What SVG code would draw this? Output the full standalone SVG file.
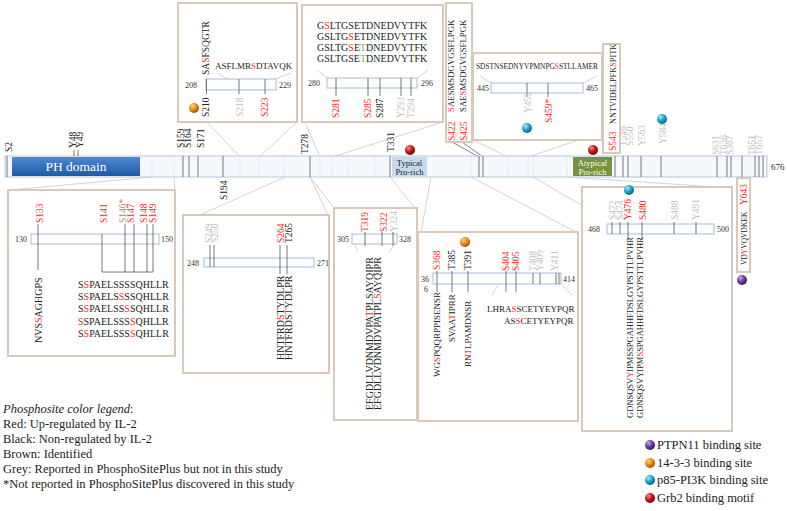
<svg xmlns="http://www.w3.org/2000/svg" width="787" height="511" viewBox="0 0 787 511">
<defs>
<radialGradient id="gOr" cx="0.35" cy="0.3" r="0.75"><stop offset="0" stop-color="#ffd27a"/><stop offset="0.5" stop-color="#f08c12"/><stop offset="1" stop-color="#9a4a00"/></radialGradient>
<radialGradient id="gCy" cx="0.35" cy="0.3" r="0.75"><stop offset="0" stop-color="#a8ecff"/><stop offset="0.5" stop-color="#1ca6cc"/><stop offset="1" stop-color="#0a5a78"/></radialGradient>
<radialGradient id="gRd" cx="0.35" cy="0.3" r="0.75"><stop offset="0" stop-color="#ff8a8a"/><stop offset="0.5" stop-color="#c8161c"/><stop offset="1" stop-color="#6a0000"/></radialGradient>
<radialGradient id="gPu" cx="0.35" cy="0.3" r="0.75"><stop offset="0" stop-color="#c7a6f0"/><stop offset="0.5" stop-color="#6a3fa8"/><stop offset="1" stop-color="#2e1458"/></radialGradient>
<linearGradient id="gPH" x1="0" y1="0" x2="0" y2="1"><stop offset="0" stop-color="#4d8ad6"/><stop offset="1" stop-color="#1f59a6"/></linearGradient>
</defs>
<style>
text{font-family:"Liberation Serif","Times New Roman",serif;fill:#222}
.l{font-size:9.5px}
.n{font-size:8px;fill:#333}
.s9{font-size:9px}
.s10{font-size:10px}
.r{fill:#ff1f1f}
.g{fill:#c2c2c2}
.b{fill:#9b9470}
.gr{fill:#7dbb5a}
.w{fill:#fff}
.box{fill:#fff;stroke:#d8c9ba;stroke-width:2}
.mb{fill:#fcfdfe;stroke:#a9bcd6;stroke-width:1}
.tk{stroke:#555;stroke-width:0.8}
.dl{stroke:#cfd7e2;stroke-width:0.8;stroke-dasharray:1.5 1.5}
.cn{stroke:#c9c9c9;stroke-width:0.8;fill:none}
.cd{stroke:#666;stroke-width:0.8;fill:none}
.lg{font-size:12.5px}
</style>
<rect width="787" height="511" fill="#fff"/>

<g id="connectors">
<line class="cn" x1="152" y1="177" x2="10" y2="190"/>
<line class="cn" x1="174" y1="177" x2="175" y2="190"/>
<line class="cn" x1="240" y1="157" x2="207" y2="122"/>
<line class="cn" x1="259" y1="157" x2="297" y2="122"/>
<line class="cn" x1="320" y1="157" x2="305" y2="122"/>
<line class="cn" x1="332" y1="157" x2="443" y2="122"/>
<line class="cd" x1="452" y1="142" x2="479" y2="157"/>
<line class="cd" x1="462" y1="142" x2="483" y2="157"/>
<line class="cn" x1="508" y1="157" x2="473" y2="140"/>
<line class="cn" x1="528" y1="157" x2="602" y2="132"/>
<line class="cn" x1="285" y1="177" x2="200" y2="215"/>
<line class="cn" x1="310" y1="177" x2="328" y2="215"/>
<line class="cn" x1="310" y1="177" x2="334" y2="208"/>
<line class="cn" x1="390" y1="177" x2="415" y2="208"/>
<line class="cn" x1="431" y1="177" x2="421" y2="232"/>
<line class="cn" x1="471" y1="177" x2="576" y2="232"/>
<line class="cn" x1="533" y1="177" x2="590" y2="210"/>
<line class="cn" x1="567" y1="177" x2="731" y2="188"/>
</g>

<g id="main-bar">
<rect x="5" y="156" width="762" height="21" fill="#f5f8fc" stroke="#b7c7dc"/>
<g class="dl">
<line x1="152" y1="156" x2="152" y2="177"/><line x1="174" y1="156" x2="174" y2="177"/>
<line x1="240" y1="156" x2="240" y2="177"/><line x1="259" y1="156" x2="259" y2="177"/>
<line x1="284" y1="156" x2="284" y2="177"/><line x1="320" y1="156" x2="320" y2="177"/>
<line x1="332" y1="156" x2="332" y2="177"/><line x1="348" y1="156" x2="348" y2="177"/>
<line x1="375" y1="156" x2="375" y2="177"/><line x1="471" y1="156" x2="471" y2="177"/>
<line x1="508" y1="156" x2="508" y2="177"/><line x1="528" y1="156" x2="528" y2="177"/>
<line x1="533" y1="156" x2="533" y2="177"/><line x1="567" y1="156" x2="567" y2="177"/>
</g>
<g class="tk">
<line x1="7" y1="156" x2="7" y2="177"/><line x1="183" y1="156" x2="183" y2="177"/>
<line x1="189" y1="156" x2="189" y2="177"/><line x1="198" y1="156" x2="198" y2="177"/>
<line x1="223" y1="156" x2="223" y2="177"/><line x1="310" y1="156" x2="310" y2="177"/>
<line x1="390" y1="156" x2="390" y2="177"/><line x1="479" y1="156" x2="479" y2="177"/>
<line x1="483" y1="156" x2="483" y2="177"/><line x1="615" y1="156" x2="615" y2="177"/>
<line x1="623" y1="156" x2="623" y2="177"/><line x1="628" y1="156" x2="628" y2="177"/>
<line x1="641" y1="156" x2="641" y2="177"/><line x1="661" y1="156" x2="661" y2="177"/>
<line x1="717" y1="156" x2="717" y2="177"/><line x1="727" y1="156" x2="727" y2="177"/>
<line x1="731" y1="156" x2="731" y2="177"/><line x1="742" y1="156" x2="742" y2="177"/>
<line x1="755" y1="156" x2="755" y2="177"/><line x1="759" y1="156" x2="759" y2="177"/>
<line x1="763" y1="156" x2="763" y2="177"/>
<line x1="74" y1="150" x2="74" y2="156"/><line x1="78" y1="150" x2="78" y2="156"/>
</g>
<rect x="12" y="157" width="128" height="19" fill="url(#gPH)"/>
<text x="76" y="171" class="w" font-size="13.5" text-anchor="middle">PH domain</text>
<rect x="392" y="157" width="35" height="19" fill="#c5d9f1"/>
<text x="409.5" y="166" font-size="8.5" text-anchor="middle">Typical</text>
<text x="409.5" y="175" font-size="8.5" text-anchor="middle">Pro-rich</text>
<rect x="573" y="157" width="39" height="19" fill="#76923c"/>
<text x="592.5" y="166" class="w" font-size="8.5" text-anchor="middle">Atypical</text>
<text x="592.5" y="175" class="w" font-size="8.5" text-anchor="middle">Pro-rich</text>
<circle cx="410" cy="150" r="5" fill="url(#gRd)"/>
<circle cx="593" cy="150" r="5" fill="url(#gRd)"/>
<circle cx="662" cy="119" r="5" fill="url(#gCy)"/>
<g class="l">
<text transform="translate(12,152) rotate(-90)">S2</text>
<text transform="translate(76,148) rotate(-90)">Y48</text>
<text transform="translate(83,148) rotate(-90)">Y49</text>
<text transform="translate(184,148) rotate(-90)">S159</text>
<text transform="translate(191,148) rotate(-90)">S164</text>
<text transform="translate(204,148) rotate(-90)">S171</text>
<text transform="translate(308,154) rotate(-90)">T278</text>
<text transform="translate(394,152) rotate(-90)">T331</text>
<text transform="translate(227,200) rotate(-90)">S194</text>
<text class="g" transform="translate(626,146) rotate(-90)">T546</text>
<text class="g" transform="translate(633,146) rotate(-90)">S550</text>
<text class="g" transform="translate(645,146) rotate(-90)">Y563</text>
<text class="g" transform="translate(666,144) rotate(-90)">Y584</text>
<text class="g" transform="translate(719,155) rotate(-90)">S631</text>
<text class="g" transform="translate(727,155) rotate(-90)">T636</text>
<text class="g" transform="translate(733,155) rotate(-90)">S367</text>
<text class="g" transform="translate(755,155) rotate(-90)">T651</text>
<text class="g" transform="translate(762,155) rotate(-90)">T657</text>
</g>
<text x="771" y="170" class="s9">676</text>
</g>

<g id="box-208-229">
<rect class="box" x="178" y="3" width="119" height="119"/>
<text class="l" transform="translate(209,75) rotate(-90)">SA<tspan class="r">S</tspan>FSQGTR</text>
<text class="s9" x="215" y="69">ASFLMR<tspan class="r">S</tspan>DTAVQK</text>
<line class="cn" x1="217" y1="73" x2="228" y2="79"/>
<line class="cn" x1="291" y1="73" x2="275" y2="79"/>
<rect class="mb" x="206" y="79" width="70" height="11"/>
<text class="n" x="185" y="88">208</text>
<text class="n" x="279" y="88">229</text>
<g class="tk"><line x1="206.5" y1="79" x2="206.5" y2="94"/><line x1="239" y1="79" x2="239" y2="94"/><line x1="265" y1="79" x2="265" y2="94"/></g>
<g class="l">
<text transform="translate(209,117) rotate(-90)">S210</text>
<text class="g" transform="translate(243,117) rotate(-90)">S218</text>
<text class="r" transform="translate(268,117) rotate(-90)">S223</text>
</g>
<circle cx="194" cy="108" r="5" fill="url(#gOr)"/>
</g>

<g id="box-280-296">
<rect class="box" x="302" y="5" width="141" height="117"/>
<g class="s10">
<text x="317" y="28.5">G<tspan class="r">S</tspan>LTGSETDNEDVYTFK</text>
<text x="317" y="39.8">GSLTG<tspan class="r">S</tspan>ETDNEDVYTFK</text>
<text x="317" y="51.1">GSLTG<tspan class="r">S</tspan>E<tspan class="gr">T</tspan>DNEDVYTFK</text>
<text x="317" y="62.4">GSLTGSE<tspan class="gr">T</tspan>DNEDVYTFK</text>
</g>
<line class="cn" x1="317" y1="70" x2="327" y2="78"/>
<line class="cn" x1="428" y1="70" x2="417" y2="78"/>
<rect class="mb" x="327" y="78" width="90" height="10"/>
<text class="n" x="308" y="86">280</text>
<text class="n" x="421" y="86">296</text>
<g class="tk"><line x1="336" y1="78" x2="336" y2="96"/><line x1="368" y1="78" x2="368" y2="96"/><line x1="380" y1="78" x2="380" y2="96"/><line x1="401" y1="78" x2="401" y2="96"/><line x1="411" y1="78" x2="411" y2="96"/></g>
<g class="l">
<text class="r" transform="translate(339,118) rotate(-90)">S281</text>
<text class="r" transform="translate(371,118) rotate(-90)">S285</text>
<text transform="translate(383,118) rotate(-90)">S287</text>
<text class="g" transform="translate(404,118) rotate(-90)">Y293</text>
<text class="g" transform="translate(414,118) rotate(-90)">T294</text>
</g>
</g>

<g id="box-422-425">
<rect class="box" x="446" y="3" width="26" height="139"/>
<text font-size="8.8" transform="translate(454,112) rotate(-90)"><tspan class="r">S</tspan>AESMSDGVGSFLPGK</text>
<text font-size="8.8" transform="translate(466,112) rotate(-90)">SAE<tspan class="r">S</tspan>MSDGVGSFLPGK</text>
<text class="l r" transform="translate(455,141) rotate(-90)">S422</text>
<text class="l r" transform="translate(467,141) rotate(-90)">S425</text>
</g>

<g id="box-445-465">
<rect class="box" x="473" y="53" width="129" height="87"/>
<text font-size="7.4" x="476" y="69">SDSTNSEDNYVPMNPG<tspan class="r">S</tspan>STLLAMER</text>
<line class="cn" x1="480" y1="76" x2="491" y2="83"/>
<line class="cn" x1="597" y1="76" x2="583" y2="83"/>
<rect class="mb" x="491" y="83" width="92" height="10"/>
<text class="n" x="477" y="91">445</text>
<text class="n" x="586" y="91">465</text>
<g class="tk"><line x1="527" y1="83" x2="527" y2="97"/><line x1="548" y1="83" x2="548" y2="97"/></g>
<text class="l g" transform="translate(531,113) rotate(-90)">Y452</text>
<text class="l r" transform="translate(552,123) rotate(-90)">S459*</text>
<circle cx="527" cy="128" r="5" fill="url(#gCy)"/>
</g>

<g id="box-543">
<rect class="box" x="603" y="44" width="17" height="109"/>
<text font-size="8.3" transform="translate(616,124) rotate(-90)">NNTVIDELPFK<tspan class="r">S</tspan>PITK</text>
<text class="l r" transform="translate(616,151) rotate(-90)">S543</text>
</g>

<g id="box-643">
<rect class="box" x="737" y="178" width="13" height="94"/>
<text class="l r" transform="translate(747,205) rotate(-90)">Y643</text>
<text font-size="7.5" transform="translate(747,265) rotate(-90)">VD<tspan class="r">Y</tspan>VQVDKEK</text>
<circle cx="742" cy="280" r="5" fill="url(#gPu)"/>
</g>

<g id="box-130-150">
<rect class="box" x="8" y="190" width="167" height="166"/>
<rect class="mb" x="31" y="234" width="128" height="10"/>
<text class="n" x="15" y="242">130</text>
<text class="n" x="161" y="242">150</text>
<g class="tk">
<line x1="38" y1="224" x2="38" y2="270"/>
<line x1="102" y1="234" x2="102" y2="272"/><line x1="125" y1="224" x2="125" y2="272"/>
<line x1="134" y1="224" x2="134" y2="272"/><line x1="147" y1="224" x2="147" y2="272"/>
<line x1="153" y1="224" x2="153" y2="272"/><line x1="102" y1="272" x2="153" y2="272"/>
</g>
<g class="l">
<text class="r" transform="translate(43,223) rotate(-90)">S133</text>
<text class="r" transform="translate(107,223) rotate(-90)">S141</text>
<text class="b" transform="translate(126,223) rotate(-90)">S146*</text>
<text class="r" transform="translate(134,223) rotate(-90)">S147</text>
<text class="r" transform="translate(147,223) rotate(-90)">S148</text>
<text class="r" transform="translate(156,223) rotate(-90)">S149</text>
</g>
<text class="s10" transform="translate(42,343) rotate(-90)">NVS<tspan class="r">S</tspan>AGHGPS</text>
<g class="s10">
<text x="78" y="288">S<tspan class="r">S</tspan>PAELSSSSQHLLR</text>
<text x="78" y="300">S<tspan class="r">S</tspan>PAELS<tspan class="r">S</tspan>SSQHLLR</text>
<text x="78" y="312">S<tspan class="r">S</tspan>PAELSS<tspan class="r">S</tspan>SQHLLR</text>
<text x="78" y="324.5"><tspan class="r">S</tspan>SPAELSSS<tspan class="r">S</tspan>QHLLR</text>
<text x="78" y="336.5">S<tspan class="r">S</tspan>PAELSSS<tspan class="r">S</tspan>QHLLR</text>
</g>
</g>

<g id="box-248-271">
<rect class="box" x="183" y="215" width="146" height="158"/>
<rect class="mb" x="204" y="258" width="110" height="9"/>
<text class="n" x="187" y="266">248</text>
<text class="n" x="317" y="266">271</text>
<g class="tk"><line x1="210" y1="245" x2="210" y2="267"/><line x1="214" y1="245" x2="214" y2="267"/><line x1="280" y1="245" x2="280" y2="274"/><line x1="287" y1="245" x2="287" y2="274"/></g>
<g class="l">
<text class="g" transform="translate(212,243) rotate(-90)">S249</text>
<text class="g" transform="translate(218,243) rotate(-90)">S250</text>
<text class="r" transform="translate(284,243) rotate(-90)">S264</text>
<text transform="translate(292,243) rotate(-90)">T265</text>
</g>
<text class="s10" transform="translate(284,360) rotate(-90)">HNTFRD<tspan class="r">S</tspan>TYDLPR</text>
<text class="s10" transform="translate(292,360) rotate(-90)">HNTFRDS<tspan class="r">T</tspan>YDLPR</text>
</g>

<g id="box-305-328">
<rect class="box" x="334" y="208" width="83" height="212"/>
<rect class="mb" x="352" y="234" width="45" height="10"/>
<text class="n" x="337" y="242">305</text>
<text class="n" x="399" y="242">328</text>
<g class="tk"><line x1="365" y1="232" x2="365" y2="246"/><line x1="382" y1="232" x2="382" y2="246"/><line x1="393" y1="232" x2="393" y2="246"/></g>
<g class="l">
<text class="r" transform="translate(368,232) rotate(-90)">T319</text>
<text class="r" transform="translate(387,232) rotate(-90)">S322</text>
<text class="g" transform="translate(397,232) rotate(-90)">Y324</text>
</g>
<line class="cn" x1="358" y1="252" x2="354" y2="244"/>
<line class="cn" x1="389" y1="252" x2="395" y2="244"/>
<text class="s10" transform="translate(373,410) rotate(-90)">EFGDLLVDNMDVPA<tspan class="r">T</tspan>PLSAYQIPR</text>
<text class="s10" transform="translate(381,410) rotate(-90)">EFGDLLVDNMDVPATPL<tspan class="r">S</tspan>AYQIPR</text>
</g>

<g id="box-366-414">
<rect class="box" x="418" y="232" width="160" height="189"/>
<circle cx="465" cy="242" r="5" fill="url(#gOr)"/>
<rect class="mb" x="433" y="273" width="128" height="11"/>
<text class="n" x="421" y="282">36</text>
<text class="n" x="424" y="292">6</text>
<text class="n" x="563" y="282">414</text>
<g class="tk">
<line x1="437" y1="271" x2="437" y2="292"/><line x1="452" y1="271" x2="452" y2="292"/><line x1="468" y1="271" x2="468" y2="292"/>
<line x1="506" y1="271" x2="506" y2="292"/><line x1="516" y1="271" x2="516" y2="292"/>
<line x1="533" y1="273" x2="533" y2="284"/><line x1="540" y1="273" x2="540" y2="284"/><line x1="556" y1="273" x2="556" y2="284"/><line x1="559" y1="273" x2="559" y2="284"/>
</g>
<g class="l">
<text class="r" transform="translate(440,270) rotate(-90)">S368</text>
<text transform="translate(455,270) rotate(-90)">T385</text>
<text transform="translate(471,270) rotate(-90)">T391</text>
<text class="r" transform="translate(509,271) rotate(-90)">S404</text>
<text class="r" transform="translate(519,271) rotate(-90)">S405</text>
<text class="g" transform="translate(536,271) rotate(-90)">T408</text>
<text class="g" transform="translate(543,271) rotate(-90)">Y409</text>
<text class="g" transform="translate(558,271) rotate(-90)">Y411</text>
</g>
<g class="s9">
<text transform="translate(440,377) rotate(-90)">WG<tspan class="r">S</tspan>PQQRPPISENSR</text>
<text transform="translate(455,342) rotate(-90)">SVAA<tspan class="r">T</tspan>IPRR</text>
<text transform="translate(471,367) rotate(-90)">RN<tspan class="r">T</tspan>LPAMDNSR</text>
<text x="487" y="312">LHRA<tspan class="r">S</tspan>SCETYEYPQR</text>
<text x="504" y="323.5">AS<tspan class="r">S</tspan>CETYEYPQR</text>
</g>
<line class="cn" x1="492" y1="295" x2="498" y2="285"/>
<line class="cn" x1="572" y1="295" x2="562" y2="285"/>
</g>

<g id="box-468-500">
<rect class="box" x="582" y="187" width="150" height="244"/>
<circle cx="629" cy="190" r="5" fill="url(#gCy)"/>
<rect class="mb" x="607" y="224" width="107" height="10"/>
<text class="n" x="588" y="232">468</text>
<text class="n" x="717" y="232">500</text>
<g class="tk"><line x1="612" y1="222" x2="612" y2="234"/><line x1="620" y1="222" x2="620" y2="234"/><line x1="628" y1="222" x2="628" y2="240"/><line x1="642" y1="222" x2="642" y2="240"/><line x1="674" y1="222" x2="674" y2="234"/><line x1="696" y1="222" x2="696" y2="234"/></g>
<g class="l">
<text class="g" transform="translate(616,220) rotate(-90)">S472</text>
<text class="g" transform="translate(623,220) rotate(-90)">S474</text>
<text class="r" transform="translate(631,220) rotate(-90)">Y476</text>
<text class="r" transform="translate(646,220) rotate(-90)">S480</text>
<text class="g" transform="translate(678,220) rotate(-90)">S488</text>
<text class="g" transform="translate(699,220) rotate(-90)">Y491</text>
</g>
<text font-size="8.5" transform="translate(633,418) rotate(-90)">GDNSQSV<tspan class="r">Y</tspan>IPMSSPGAHHFDSLGYPSTTLPVHR</text>
<text font-size="8.5" transform="translate(643,418) rotate(-90)">GDNSQSVYIPM<tspan class="r">S</tspan>SPGAHHFDSLGYPSTTLPVHR</text>
</g>

<g id="legend-colors" class="lg">
<text x="3" y="413" font-style="italic">Phosphosite color legend<tspan font-style="normal">:</tspan></text>
<text x="3" y="428">Red: Up-regulated by IL-2</text>
<text x="3" y="443">Black: Non-regulated by IL-2</text>
<text x="3" y="458">Brown: Identified</text>
<text x="3" y="473">Grey: Reported in PhosphoSitePlus but not in this study</text>
<text x="3" y="488">*Not reported in PhosphoSitePlus discovered in this study</text>
</g>
<g id="legend-binding" class="lg">
<circle cx="650" cy="445" r="5" fill="url(#gPu)"/>
<circle cx="650" cy="463" r="5" fill="url(#gOr)"/>
<circle cx="650" cy="480" r="5" fill="url(#gCy)"/>
<circle cx="650" cy="498" r="5" fill="url(#gRd)"/>
<text x="657" y="449">PTPN11 binding site</text>
<text x="657" y="467">14-3-3 binding site</text>
<text x="657" y="484">p85-PI3K binding site</text>
<text x="657" y="502">Grb2 binding motif</text>
</g>
</svg>
